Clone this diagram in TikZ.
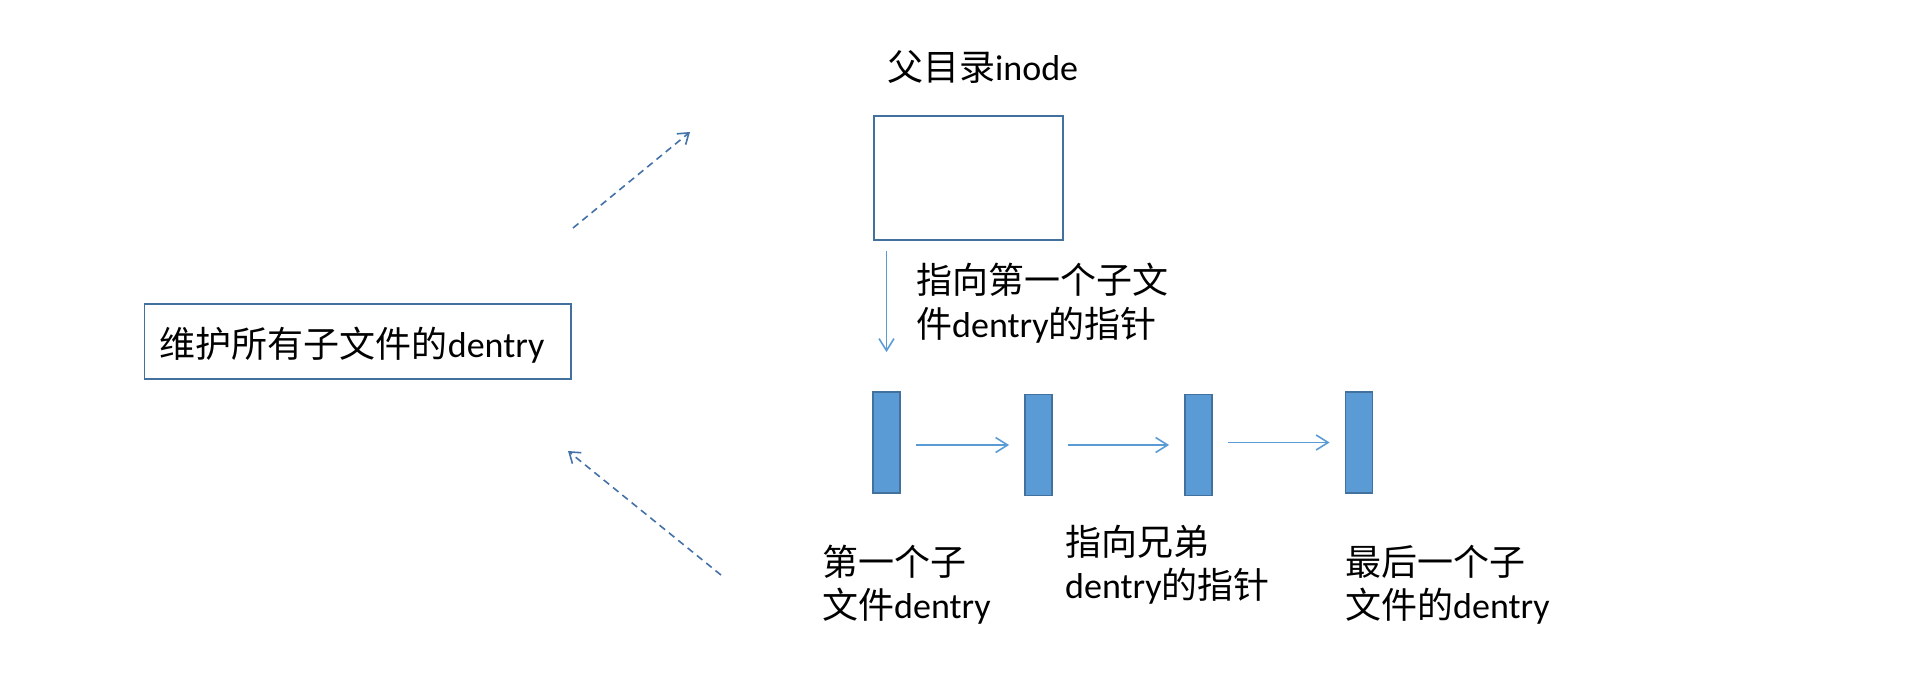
\documentclass[tikz,border=0pt]{standalone}
\usepackage{fontspec}
\setmainfont{Carlito}
\newfontfamily\cjk{Noto Sans CJK SC}
\usetikzlibrary{arrows.meta}
\definecolor{boxblue}{HTML}{41719C}
\definecolor{fillblue}{HTML}{5B9BD5}
\definecolor{arrblue}{HTML}{5B9BD5}
\definecolor{dashblue}{HTML}{4472A8}
\tikzset{
  lbl/.style={inner sep=0pt, anchor=north west, align=left, font=\fontsize{36pt}{44pt}\selectfont},
  lblb/.style={lbl, font=\fontsize{36pt}{43pt}\selectfont},
  frame/.style={draw=boxblue, line width=1.8pt, inner sep=0pt},
  dentrybox/.style={draw=boxblue, fill=fillblue, line width=1.8pt, minimum width=27pt, minimum height=101pt, inner sep=0pt},
  solidarr/.style={draw=arrblue, line width=1.6pt, -{Straight Barb[length=12pt,width=15pt]}},
  dasharr/.style={draw=dashblue, line width=1.6pt, dash pattern=on 7pt off 5pt, -{Straight Barb[length=10pt,width=14pt]}}
}
\begin{document}
\begin{tikzpicture}[x=1pt,y=-1pt]
\useasboundingbox[fill=white] (0,0) rectangle (1920,694);

% parent inode
\node[lbl] (plabel) at (887,50) {{\cjk 父目录}inode};
\node[frame, minimum width=189.3pt, minimum height=124pt, anchor=north west] (inode) at (872.7,115) {};

% left box
\node[frame, anchor=north west, minimum height=75.3pt, inner xsep=15.5pt, text width=395.5pt, align=left,
      text height=40pt, text depth=7pt, font=\fontsize{36pt}{44pt}\selectfont] (lbox) at (143.5,302.7)
      {{\cjk 维护所有子文件的}dentry};

% dentry rectangles
\node[dentrybox] (r1) at (886.5,442.5) {};
\node[dentrybox] (r2) at (1038.5,445) {};
\node[dentrybox] (r3) at (1198.5,445) {};
\node[dentrybox] (r4) at (1359,442.5) {};

% arrow inode -> first child
\coordinate (dtop) at (inode.south -| r1.north);
\draw[solidarr, shorten <=10pt, shorten >=39pt] (dtop) -- (r1.north);
\node[lbl] (ptrlabel) at (916,263) {{\cjk 指向第一个子文}\\{\cjk 件}dentry{\cjk 的指针}};

% sibling arrows
\draw[solidarr, shorten <=15pt, shorten >=15pt] (r1.east |- r2.west) -- (r2.west);
\draw[solidarr, shorten <=15pt, shorten >=15pt] (r2.east) -- (r3.west);
\draw[solidarr, shorten <=15pt, shorten >=15pt] (r3.east |- r4.west) -- (r4.west);

% bottom labels
\node[lblb] (first) at (822,545) {{\cjk 第一个子}\\{\cjk 文件}dentry};
\node[lblb] (sib) at (1065,525) {{\cjk 指向兄弟}\\dentry{\cjk 的指针}};
\node[lblb] (last) at (1345,545) {{\cjk 最后一个子}\\{\cjk 文件的}dentry};

% dashed arrows
\coordinate (d1s) at (573,228);
\coordinate (d1e) at (690,132);
\coordinate (d2s) at (721,575);
\coordinate (d2e) at (568,451);
\draw[dasharr] (d1s) -- (d1e);
\draw[dasharr] (d2s) -- (d2e);
\end{tikzpicture}
\end{document}
